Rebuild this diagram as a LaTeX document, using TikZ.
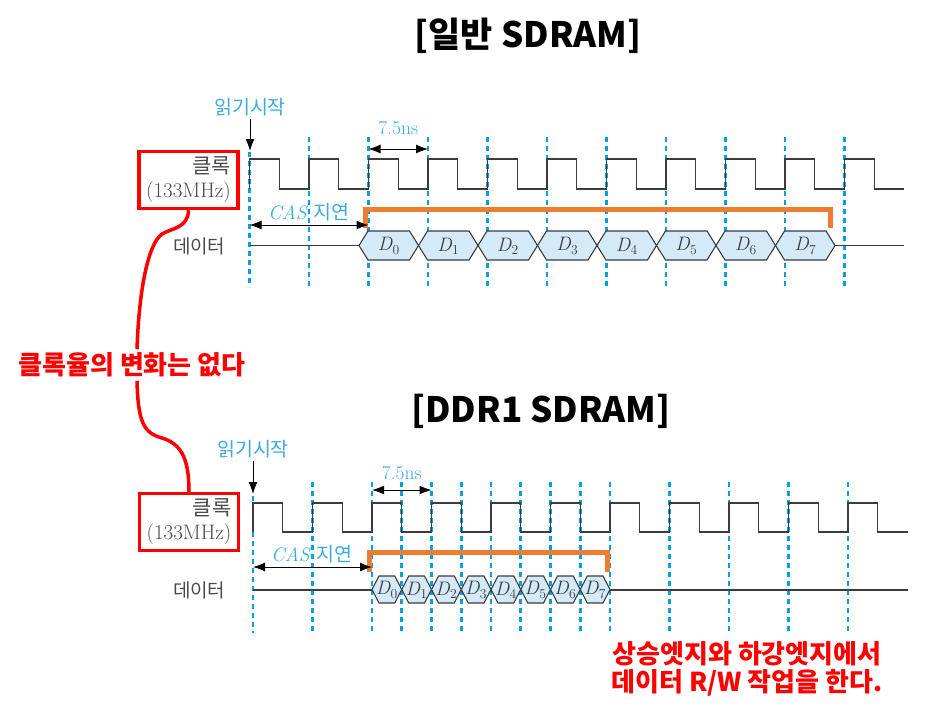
\documentclass[tikz,border=0pt]{standalone}
\usepackage{fontspec}
\newfontfamily\kr{Noto Sans CJK KR}
\usetikzlibrary{arrows.meta}
\definecolor{tickblue}{RGB}{0,160,230}
\definecolor{labelblue}{RGB}{60,170,225}
\definecolor{cellfill}{RGB}{212,234,248}
\definecolor{wire}{RGB}{60,60,60}
\definecolor{spanorange}{RGB}{237,125,49}
\definecolor{notered}{RGB}{255,0,0}
\definecolor{captiongray}{RGB}{75,75,75}
\begin{document}
\begin{tikzpicture}[
    x=1pt, y=-1pt,
    >={Latex[length=12pt,width=9pt]},
    sdtitle/.style={font=\kr\bfseries\fontsize{35}{35}\selectfont},
    bluetag/.style={text=labelblue, font=\fontsize{19.5}{19.5}\selectfont},
    siglabel/.style={text=captiongray, font=\kr\fontsize{19}{19}\selectfont},
    clkbox/.style={draw=notered, line width=3.5pt, minimum width=99pt, minimum height=57pt, inner sep=0pt, text=captiongray, font=\fontsize{21}{24}\selectfont, align=right},
    gridline/.style={draw=tickblue, line width=2.6pt, dash pattern=on 5pt off 4pt},
    clkwave/.style={draw=wire, line width=1.3pt},
    datacell/.style={draw=wire, line width=1.1pt, fill=cellfill},
    datatext/.style={text=wire, font=\fontsize{19.5}{19.5}\selectfont},
    spanmark/.style={draw=spanorange, line width=5pt},
    redline/.style={draw=notered, line width=3.5pt},
    redremark/.style={text=notered, font=\kr\bfseries\fontsize{26}{28}\selectfont, align=center}
  ]
  \useasboundingbox (0,0) rectangle (925,710);

  \node (t1) at (528,36) [sdtitle] {[일반 SDRAM]};

  \foreach \i in {1,...,10}
    \draw [gridline] (249.5+\i*59.5,137) -- (249.5+\i*59.5,287);
  \draw [gridline] (249.5,152) -- (249.5,287);

  \draw [clkwave] (249.5,189) \foreach \i in {0,...,10} { -- ++(0,-30) -- ++(29.75,0) -- ++(0,30) -- ++(29.75,0) };

  \draw [clkwave] (249.5,245.5) -- (359,245.5);
  \draw [clkwave] (835,245.5) -- (904,245.5);
  \foreach \i in {0,...,7} {
    \draw [datacell] (359+\i*59.5,245.5) -- ++(9,-14.5) -- ++(41.5,0) -- ++(9,14.5) -- ++(-9,14.5) -- ++(-41.5,0) -- cycle;
    \node (da\i) at (388.75+\i*59.5,246) [datatext] {\textit{D}\textsubscript{\i}};
  }
  \draw [spanmark] (365,228) -- (365,209.5) -- (830.5,209.5) -- (830.5,228);

  \node (rd1) at (250,107) [bluetag] {\kr 읽기시작};
  \coordinate (go1) at (250,151);
  \draw [->, line width=1pt] (rd1) -- (go1);

  \node (ns1) at (398.25,128) [bluetag] {7.5ns};
  \coordinate (pa1) at (368.5,149);
  \coordinate (pb1) at (428,149);
  \draw [<->, line width=1pt] (pa1) -- (pb1);

  \node (cas1) at (309,212) [bluetag] {\textit{CAS} {\kr 지연}};
  \coordinate (ca1) at (249.5,225);
  \coordinate (cb1) at (368.5,225);
  \draw [<->, line width=1pt] (ca1) -- (cb1);

  \node (sd1) at (188.5,180) [clkbox] {{\kr 클록}\\(133MHz)};
  \node (dt1) at (229,246) [siglabel, anchor=east] {데이터};

  \node (t2) at (541,411) [sdtitle] {[DDR1 SDRAM]};

  \foreach \i in {1,2,2.5,3,3.5,4,4.5,5,5.5,6,7,8,9,10}
    \draw [gridline] (253+\i*59.5,482) -- (253+\i*59.5,633);
  \draw [gridline] (253,496) -- (253,633);

  \draw [clkwave] (253,532) \foreach \i in {0,...,10} { -- ++(0,-29) -- ++(29.75,0) -- ++(0,29) -- ++(29.75,0) };

  \draw [clkwave] (253,590) -- (372,590);
  \draw [clkwave] (610,590) -- (907.5,590);
  \foreach \i in {0,...,7} {
    \draw [datacell] (372+\i*29.75,589.5) -- ++(7,-13.5) -- ++(15.75,0) -- ++(7,13.5) -- ++(-7,13.5) -- ++(-15.75,0) -- cycle;
    \node (db\i) at (386.875+\i*29.75,590) [datatext] {\textit{D}\textsubscript{\i}};
  }
  \draw [spanmark] (369.5,572) -- (369.5,552) -- (607,552) -- (607,572);

  \node (rd2) at (253,449) [bluetag] {\kr 읽기시작};
  \coordinate (go2) at (253,494);
  \draw [->, line width=1pt] (rd2) -- (go2);

  \node (ns2) at (401.75,473) [bluetag] {7.5ns};
  \coordinate (pa2) at (372,490);
  \coordinate (pb2) at (431.5,490);
  \draw [<->, line width=1pt] (pa2) -- (pb2);

  \node (cas2) at (312,554) [bluetag] {\textit{CAS} {\kr 지연}};
  \coordinate (ca2) at (253,567);
  \coordinate (cb2) at (372,567);
  \draw [<->, line width=1pt] (ca2) -- (cb2);

  \node (sd2) at (189,522) [clkbox] {{\kr 클록}\\(133MHz)};
  \node (dt2) at (229,590) [siglabel, anchor=east] {데이터};

  \node (nt) at (132,365) [redremark] {클록율의 변화는 없다};
  \draw [redline] (sd1.south) .. controls (188,228) and (172,228) .. (162,234) .. controls (148,244) and (139,290) .. ([xshift=5pt]nt.north);
  \draw [redline] ([xshift=5pt]nt.south) .. controls (138,425) and (145,433) .. (162,438) .. controls (182,444) and (189,460) .. (sd2.north);

  \node (nb) at (747,669) [redremark] {상승엣지와 하강엣지에서\\데이터 R/W 작업을 한다.};
\end{tikzpicture}
\end{document}
